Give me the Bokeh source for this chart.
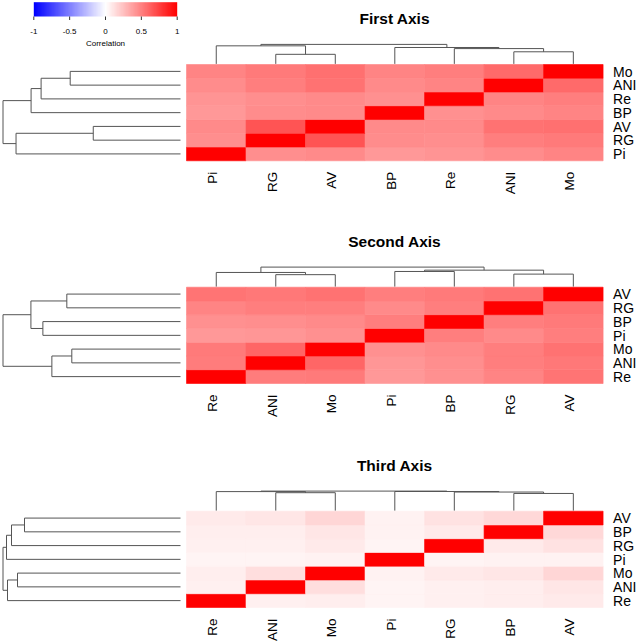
import math
import numpy as np
from bokeh.plotting import figure
from bokeh.models import Range1d, ColumnDataSource, LinearColorMapper, Grid
from bokeh.transform import transform
from bokeh.core.properties import value
from bokeh.embed import file_html
from bokeh.resources import INLINE

# ---------------- data ----------------
VARS = ["Pi", "RG", "AV", "BP", "Re", "ANI", "Mo"]
TITLES = ["First Axis", "Second Axis", "Third Axis"]

# correlation matrices, rows/cols in VARS order
corr_first = [
    [1.00, 0.44, 0.46, 0.40, 0.42, 0.45, 0.48],
    [0.44, 1.00, 0.67, 0.45, 0.44, 0.50, 0.52],
    [0.46, 0.67, 1.00, 0.46, 0.46, 0.55, 0.56],
    [0.40, 0.45, 0.46, 1.00, 0.43, 0.46, 0.48],
    [0.42, 0.44, 0.46, 0.43, 1.00, 0.48, 0.50],
    [0.45, 0.50, 0.55, 0.46, 0.48, 1.00, 0.58],
    [0.48, 0.52, 0.56, 0.48, 0.50, 0.58, 1.00],
]
corr_second = [
    [1.00, 0.46, 0.50, 0.50, 0.40, 0.41, 0.43],
    [0.46, 1.00, 0.55, 0.50, 0.48, 0.50, 0.50],
    [0.50, 0.55, 1.00, 0.52, 0.54, 0.53, 0.55],
    [0.50, 0.50, 0.52, 1.00, 0.43, 0.44, 0.46],
    [0.40, 0.48, 0.54, 0.43, 1.00, 0.51, 0.52],
    [0.41, 0.50, 0.53, 0.44, 0.51, 1.00, 0.60],
    [0.43, 0.50, 0.55, 0.46, 0.52, 0.60, 1.00],
]
corr_third = [
    [1.00, 0.04, 0.05, 0.05, 0.04, 0.04, 0.05],
    [0.04, 1.00, 0.11, 0.08, 0.06, 0.06, 0.08],
    [0.05, 0.11, 1.00, 0.15, 0.08, 0.10, 0.16],
    [0.05, 0.08, 0.15, 1.00, 0.07, 0.07, 0.10],
    [0.04, 0.06, 0.08, 0.07, 1.00, 0.06, 0.07],
    [0.04, 0.06, 0.10, 0.07, 0.06, 1.00, 0.13],
    [0.05, 0.08, 0.16, 0.10, 0.07, 0.13, 1.00],
]

# dendrograms: (left, right, merge height)
dend_first = (("Pi", ("RG", "AV", 0.87), 1.64),
              ("BP", ("Re", ("ANI", "Mo", 1.10), 1.39), 1.49), 1.77)
dend_second = (("Re", ("ANI", "Mo", 1.09), 1.29),
               (("Pi", "BP", 1.38), ("RG", "AV", 1.14), 1.50), 1.78)
dend_third = (("Re", ("ANI", "Mo", 1.63), 1.73),
              ("Pi", ("RG", ("BP", "AV", 1.56), 1.69), 1.74), 1.775)

key_ticks = [-1, -0.5, 0, 0.5, 1]
key_tick_labels = ["-1", "-0.5", "0", "0.5", "1"]
key_title = "Correlation"

# ---------------- layout constants (pixels) ----------------
W, H = 638, 643
FONT = "Liberation Sans"
HM_X0, HM_X1 = 186.0, 602.6
HM_TOPS = [64.0, 286.7, 510.7]
HM_H = 96.3
RD_LEAF, RD_ROOT = 180.0, 2.5
CD_GAP, CD_SPAN = 0.6, 19.5
KEY_X0, KEY_X1 = 33.3, 176.7
KEY_Y0, KEY_Y1 = 1.7, 16.0
LINE_COL = "#555555"


def hexcol(r, g, b):
    return "#%02x%02x%02x" % (r, g, b)


palette = []
for t in np.linspace(-1, 1, 256):
    if t < 0:
        c = int(round(255 * (1 + t)))
        palette.append(hexcol(c, c, 255))
    else:
        c = int(round(255 * (1 - t)))
        palette.append(hexcol(255, c, c))
mapper = LinearColorMapper(palette=palette, low=-1, high=1)


def x_range_for(v0, p0, v1, p1):
    k = (v1 - v0) / (p1 - p0)
    return Range1d(start=v0 + (0 - p0) * k, end=v0 + (W - p0) * k)


def y_range_for(v0, p0, v1, p1):
    k = (v1 - v0) / (p1 - p0)
    return Range1d(start=v0 + (H - p0) * k, end=v0 + (0 - p0) * k)


def leaves(node):
    if isinstance(node, str):
        return [node]
    return leaves(node[0]) + leaves(node[1])


def tree_segments(node, pos):
    if isinstance(node, str):
        return pos[node], 0.0, []
    lp, lh, ls = tree_segments(node[0], pos)
    rp, rh, rs = tree_segments(node[1], pos)
    h = node[2]
    segs = ls + rs + [(lp, lh, lp, h), (rp, rh, rp, h), (lp, h, rp, h)]
    return (lp + rp) / 2.0, h, segs


p = figure(width=W, height=H, output_backend="svg", toolbar_location=None,
           x_range=x_range_for(0, HM_X0, 7, HM_X1),
           y_range=Range1d(start=H, end=0),
           x_axis_location=None, y_axis_location=None,
           min_border=0, outline_line_color=None,
           background_fill_color="white", border_fill_color="white")
for r in list(p.center):
    if isinstance(r, Grid):
        r.visible = False
        r.grid_line_color = None

extra_x = {"key": x_range_for(-1, KEY_X0, 1, KEY_X1)}
extra_y = {}

panels = [(TITLES[0], corr_first, dend_first),
          (TITLES[1], corr_second, dend_second),
          (TITLES[2], corr_third, dend_third)]

for i, (title, corr, dend) in enumerate(panels):
    T = HM_TOPS[i]
    B = T + HM_H
    root = dend[2]
    extra_y[f"hm{i}"] = y_range_for(0, B, 7, T)
    extra_y[f"cd{i}"] = y_range_for(0, T - CD_GAP, root, T - CD_GAP - CD_SPAN)
    extra_x[f"rd{i}"] = x_range_for(0, RD_LEAF, root, RD_ROOT)

p.extra_x_ranges = extra_x
p.extra_y_ranges = extra_y

for i, (title, corr, dend) in enumerate(panels):
    hm, cd, rd = f"hm{i}", f"cd{i}", f"rd{i}"
    order = leaves(dend)
    pos = {name: k + 0.5 for k, name in enumerate(order)}

    xs, ys, vs = [], [], []
    for rname in order:
        for cname in order:
            xs.append(pos[cname])
            ys.append(pos[rname])
            vs.append(corr[VARS.index(rname)][VARS.index(cname)])
    src = ColumnDataSource(dict(x=xs, y=ys, v=vs))
    p.rect(x="x", y="y", width=1, height=1, source=src, y_range_name=hm,
           fill_color=transform("v", mapper), line_color=transform("v", mapper),
           line_width=0.6)

    _, _, segs = tree_segments(dend, pos)
    # column dendrogram (above)
    p.segment(x0=[s[0] for s in segs], y0=[s[1] for s in segs],
              x1=[s[2] for s in segs], y1=[s[3] for s in segs],
              y_range_name=cd, line_color=LINE_COL, line_width=1)
    # row dendrogram (left)
    p.segment(x0=[s[1] for s in segs], y0=[s[0] for s in segs],
              x1=[s[3] for s in segs], y1=[s[2] for s in segs],
              x_range_name=rd, y_range_name=hm, line_color=LINE_COL, line_width=1)

    # row labels (right)
    p.text(x=[7] * len(order), y=[pos[n] for n in order], text=order,
           y_range_name=hm, x_offset=10, y_offset=0.3,
           text_font=value(FONT), text_font_size="14px", text_color="black",
           text_align="left", text_baseline="middle")
    # column labels (below, vertical)
    p.text(x=[pos[n] for n in order], y=[0] * len(order), text=order,
           y_range_name=hm, x_offset=-3.5, y_offset=11, angle=math.pi / 2,
           text_font=value(FONT), text_font_size="13.5px", text_color="black",
           text_align="right", text_baseline="middle")
    # title
    p.text(x=[3.5], y=[7], text=[title], y_range_name=hm, y_offset=-46,
           text_font=value(FONT), text_font_size="15.5px", text_font_style="bold",
           text_color="black", text_align="center", text_baseline="middle")

# ---------------- colour key ----------------
grad = np.linspace(-1, 1, 256).reshape(1, 256)
p.image(image=[grad], x=-1, y=KEY_Y0, dw=2, dh=KEY_Y1 - KEY_Y0,
        color_mapper=mapper, x_range_name="key")
p.segment(x0=key_ticks, y0=[KEY_Y1] * 5, x1=key_ticks, y1=[KEY_Y1 + 3.5] * 5,
          x_range_name="key", line_color="#333333", line_width=1)
p.text(x=key_ticks, y=[30.7] * 5, text=key_tick_labels, x_range_name="key",
       text_font=value(FONT), text_font_size="8px", text_color="black",
       text_align="center", text_baseline="middle")
p.text(x=[0], y=[43.3], text=[key_title], x_range_name="key",
       text_font=value(FONT), text_font_size="8px", text_color="black",
       text_align="center", text_baseline="middle")

open("out.html", "w").write(file_html(p, INLINE))
